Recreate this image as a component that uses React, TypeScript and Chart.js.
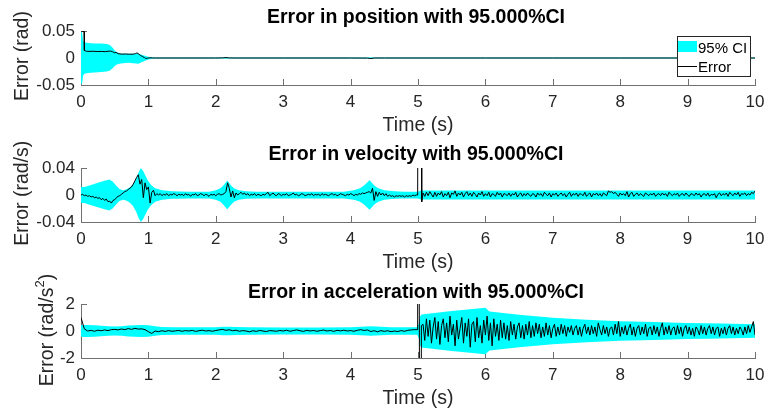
import React, { useEffect, useRef } from "react";
import { Chart, registerables } from "chart.js";

Chart.register(...registerables);

// ---------------- data ----------------
const xTickValues = [0, 1, 2, 3, 4, 5, 6, 7, 8, 9, 10];
const xTickLabels = ["0", "1", "2", "3", "4", "5", "6", "7", "8", "9", "10"];

const posYTicks = [-0.05, 0, 0.05];
const posYTickLabels = ["-0.05", "0", "0.05"];
const velYTicks = [-0.04, 0, 0.04];
const velYTickLabels = ["-0.04", "0", "0.04"];
const accYTicks = [-2, 0, 2];
const accYTickLabels = ["-2", "0", "2"];

// Position error (rad)
const posErrT = [0, 0.045, 0.05, 0.08, 0.12, 0.18, 0.24, 0.3, 0.36, 0.4, 0.44, 0.47, 0.5, 0.52, 0.55, 0.6, 0.66, 0.72, 0.78, 0.81, 0.83, 0.85, 0.88, 0.91, 0.94, 0.96, 0.99, 1.02, 1.06, 1.1, 1.5, 2.0, 2.1, 2.15, 2.2, 2.3, 3.0, 4.0, 4.25, 4.3, 4.35, 4.5, 5.0, 6.0, 7.0, 8.0, 9.0, 10.0];
const posErr = [0.05, 0.049, 0.014, 0.0125, 0.0122, 0.0125, 0.012, 0.0122, 0.0118, 0.0125, 0.0128, 0.0115, 0.0095, 0.0105, 0.008, 0.0072, 0.0074, 0.007, 0.0072, 0.0082, 0.0095, 0.008, 0.005, 0.0028, 0.0008, -0.0008, -0.0003, 0.0004, 0.0001, 0, 0, 0, 0.0002, 0.0008, 0.0001, 0, 0, 0, -0.0002, -0.001, 0, 0, 0, 0, 0, 0, 0, 0];
const posCiT = [0, 0.02, 0.03, 0.05, 0.1, 0.2, 0.3, 0.38, 0.43, 0.47, 0.5, 0.53, 0.57, 0.62, 0.7, 0.78, 0.85, 0.9, 0.95, 1.0, 1.05, 1.1, 2.1, 2.15, 2.2, 4.25, 4.3, 4.35, 10];
const posCiUpper = [0.05, 0.045, 0.032, 0.029, 0.028, 0.027, 0.027, 0.026, 0.024, 0.019, 0.014, 0.011, 0.009, 0.008, 0.0078, 0.008, 0.0085, 0.006, 0.004, 0.0022, 0.0012, 0.0008, 0.0008, 0.0016, 0.0008, 0.0008, 0.0016, 0.0008, 0.0008];
const posCiLower = [-0.05, -0.045, -0.033, -0.029, -0.028, -0.027, -0.026, -0.025, -0.023, -0.019, -0.015, -0.012, -0.0105, -0.0095, -0.009, -0.0095, -0.0105, -0.008, -0.005, -0.0028, -0.0012, -0.0008, -0.0008, -0.0016, -0.0008, -0.0008, -0.0016, -0.0008, -0.0008];

// Velocity error (rad/s)
const velCiT = [0, 0.05, 0.15, 0.25, 0.35, 0.42, 0.47, 0.52, 0.57, 0.62, 0.67, 0.72, 0.77, 0.82, 0.86, 0.89, 0.92, 0.95, 0.99, 1.04, 1.1, 1.2, 1.35, 1.6, 1.9, 2.0, 2.07, 2.12, 2.15, 2.17, 2.19, 2.22, 2.27, 2.34, 2.45, 2.6, 3.0, 3.5, 3.9, 4.05, 4.14, 4.2, 4.25, 4.28, 4.31, 4.35, 4.41, 4.5, 4.65, 4.8, 5.0, 5.04, 5.5, 6, 7, 8, 9, 10];
const velCiHalf = [0.012, 0.012, 0.015, 0.018, 0.021, 0.023, 0.02, 0.014, 0.009, 0.007, 0.008, 0.011, 0.016, 0.025, 0.035, 0.04, 0.036, 0.03, 0.022, 0.015, 0.01, 0.007, 0.0055, 0.005, 0.005, 0.007, 0.01, 0.015, 0.019, 0.021, 0.019, 0.015, 0.01, 0.007, 0.0055, 0.005, 0.005, 0.005, 0.005, 0.007, 0.01, 0.014, 0.019, 0.022, 0.019, 0.014, 0.01, 0.007, 0.0055, 0.005, 0.005, 0.0065, 0.0068, 0.0068, 0.0065, 0.0065, 0.0065, 0.0065];
const velPreStart = 0;
const velPreStep = 0.025;
const velPre = [
  0.000, 0.001, -0.001, 0.000, -0.002, -0.001, -0.003, -0.002, -0.004, -0.003,
  -0.005, -0.004, -0.007, -0.005, -0.008, -0.006, -0.010, -0.009, -0.012, -0.008,
  -0.007, -0.004, -0.002, -0.001, 0.001, 0.003, 0.005, 0.006, 0.008, 0.010,
  0.012, 0.016, 0.021, 0.026, 0.030, 0.016, 0.023, -0.004, 0.018, 0.008,
  0.012, -0.012, 0.004, 0.007, -0.001, 0.002, 0.000, 0.002, -0.001, 0.001,
  0.000, 0.002, -0.001, 0.001, 0.000, 0.002, 0.001, -0.001, 0.001, 0.000,
  0.001, -0.001, 0.002, 0.000, 0.001, -0.002, 0.001, 0.000, 0.002, -0.001,
  0.000, 0.002, 0.001, -0.001, 0.001, 0.000, -0.002, 0.001, 0.000, 0.001,
  -0.001, 0.001, 0.002, 0.000, 0.001, 0.002, 0.005, 0.018, 0.010, -0.003,
  0.006, -0.004, 0.003, 0.000, 0.002, 0.004, 0.001, 0.003, 0.000, 0.002,
  -0.001, 0.001, 0.000, 0.002, -0.001, 0.001, 0.000, -0.001, 0.001, 0.000,
  0.002, 0.004, -0.001, 0.001, 0.003, 0.000, -0.001, 0.002, 0.001, -0.001,
  0.001, 0.000, 0.002, -0.001, 0.000, 0.001, 0.003, 0.000, 0.001, -0.001,
  0.000, 0.002, 0.001, -0.001, 0.000, 0.001, 0.000, 0.002, -0.001, 0.001,
  0.000, 0.001, -0.001, 0.002, 0.000, 0.001, 0.000, -0.001, 0.001, 0.002,
  0.000, 0.001, -0.001, 0.000, 0.002, 0.001, 0.000, -0.001, 0.001, 0.000,
  0.002, 0.001, -0.001, 0.001, 0.000, 0.002, 0.001, 0.003, 0.002, 0.003,
  0.004, 0.005, 0.003, 0.010, -0.008, 0.005, -0.002, 0.004, 0.000, 0.003,
  -0.001, 0.002, -0.002, 0.000, -0.002, -0.001, -0.003, -0.001, -0.002, -0.001,
  -0.002, -0.001, -0.003, -0.001, -0.002, -0.001, -0.002, 0.000, -0.001, 0.000,
];
const velSpikeT = [4.995, 5.0, 5.05, 5.055];
const velSpike = [0.0, 0.3, 0.3, -0.01];
const velPostStart = 5.075;
const velPostStep = 0.025;
const velPost = [
  0.003, -0.002, 0.004, -0.001, 0.005, 0.001, -0.003, 0.004, -0.002, 0.003,
  0.000, 0.005, -0.003, 0.002, -0.001, 0.004, -0.004, 0.003, 0.001, 0.006,
  -0.002, 0.003, 0.000, 0.004, -0.003, 0.002, 0.005, -0.001, 0.003, -0.002,
  0.004, 0.001, -0.003, 0.003, 0.000, 0.005, -0.002, 0.002, -0.001, 0.004,
  -0.003, 0.002, 0.001, -0.002, 0.004, 0.000, 0.003, -0.003, 0.002, 0.001,
  -0.001, 0.003, -0.002, 0.002, 0.000, 0.004, -0.003, 0.001, 0.003, -0.002,
  0.002, -0.001, 0.003, 0.000, -0.002, 0.002, 0.001, -0.003, 0.003, 0.000,
  0.002, -0.002, 0.004, 0.001, -0.001, 0.003, -0.003, 0.002, 0.000, 0.003,
  -0.002, 0.001, 0.003, -0.001, 0.002, -0.003, 0.001, 0.004, -0.002, 0.002,
  0.000, 0.003, -0.002, 0.002, 0.001, -0.001, 0.004, -0.002, 0.001, 0.003,
  -0.003, 0.002, 0.000, 0.003, -0.001, 0.002, -0.002, 0.003, 0.001, -0.001,
  0.006, 0.004, 0.005, 0.002, 0.004, 0.001, -0.002, 0.003, 0.000, 0.002,
  -0.001, 0.005, -0.003, 0.002, 0.004, -0.002, 0.001, 0.003, -0.001, 0.002,
  0.000, -0.002, 0.003, 0.001, -0.001, 0.002, 0.000, 0.003, -0.002, 0.001,
  0.002, -0.001, 0.003, 0.000, 0.002, -0.002, 0.004, 0.001, -0.001, 0.002,
  0.000, 0.003, -0.002, 0.001, 0.002, -0.001, 0.003, 0.000, -0.002, 0.002,
  0.001, -0.001, 0.003, 0.000, 0.002, -0.003, 0.001, 0.002, -0.001, 0.003,
  -0.002, 0.001, 0.000, 0.002, -0.004, 0.001, 0.003, -0.001, 0.002, 0.000,
  0.003, -0.002, 0.004, 0.001, -0.001, 0.003, 0.000, 0.004, -0.002, 0.002,
  0.001, 0.003, -0.001, 0.002, 0.000, 0.004, 0.002, 0.006,
];

// Acceleration error (rad/s^2)
const accCiT = [0, 0.05, 0.1, 0.2, 0.3, 0.4, 0.5, 0.6, 0.7, 0.8, 0.9, 1.0, 1.1, 1.2, 1.4, 1.7, 2.0, 2.1, 2.2, 2.3, 2.5, 3.0, 3.5, 4.0, 4.15, 4.3, 4.45, 4.6, 4.99, 5.015, 5.03, 5.05, 5.5, 6.0, 6.06, 6.5, 7, 7.5, 8, 8.5, 9, 9.5, 10];
const accCiHalf = [0.42, 0.45, 0.45, 0.42, 0.38, 0.35, 0.33, 0.36, 0.4, 0.43, 0.45, 0.43, 0.36, 0.3, 0.27, 0.27, 0.28, 0.31, 0.32, 0.3, 0.27, 0.26, 0.26, 0.27, 0.32, 0.36, 0.32, 0.28, 0.27, 0.6, 1.05, 1.23, 1.48, 1.72, 1.45, 1.2, 0.98, 0.84, 0.73, 0.66, 0.6, 0.55, 0.5];
const accPreStart = 0;
const accPreStep = 0.05;
const accPre = [
  1.0, 0.15, 0.0, 0.05, -0.02, 0.06, 0.02, 0.08, 0.03, 0.1,
  0.12, 0.08, 0.15, 0.1, 0.18, 0.12, 0.2, 0.14, 0.16, 0.1,
  -0.05, -0.18, 0.0, -0.05, 0.02, -0.03, 0.03, -0.02, 0.01, 0.04,
  -0.02, 0.03, 0.0, 0.05, -0.03, 0.02, 0.06, 0.0, 0.03, -0.02,
  0.04, 0.08, 0.12, 0.05, 0.09, 0.02, 0.06, -0.02, 0.03, 0.0,
  -0.06, 0.02, -0.03, 0.04, 0.0, -0.04, 0.03, 0.01, -0.02, 0.04,
  0.0, 0.06, -0.02, 0.03, 0.08, 0.02, -0.03, 0.05, 0.0, 0.04,
  -0.02, 0.03, 0.07, 0.0, 0.04, -0.03, 0.05, 0.01, 0.06, 0.0,
  0.03, -0.02, 0.05, 0.1, 0.04, 0.08, -0.04, 0.02, -0.06, 0.03,
  -0.03, 0.02, -0.05, 0.0, -0.04, 0.03, -0.02, 0.05, 0.08, 0.1,
];
const accSpikeT = [4.995, 5.0, 5.04, 5.05];
const accSpike = [0.1, 40, -40, 0.4];
const accPostStart = 5.075;
const accPostStep = 0.025;
const accPost = [
  0.5, -0.7, 0.9, -0.4, 0.8, -0.9, 0.3, 1.0, -0.6, 0.7,
  -1.0, 0.4, 0.9, -0.5, 0.6, -0.8, 1.1, -0.3, 0.5, -1.1,
  0.8, -0.6, 0.2, 1.0, -0.9, 0.6, -0.4, 0.9, -1.2, 0.5,
  0.7, -0.8, 1.0, -0.5, 0.4, -0.9, 0.8, -0.3, 1.1, -0.7,
  0.6, -1.1, 0.9, -0.4, 0.5, -0.7, 0.8, -0.5, 0.6, -0.6,
  0.4, -0.7, 0.7, -0.3, 0.5, -0.6, 0.3, 0.6, -0.5, 0.4,
  -0.6, 0.5, -0.3, 0.7, -0.5, 0.4, -0.4, 0.6, -0.2, 0.5,
  -0.5, 0.3, -0.4, 0.6, -0.3, 0.4, -0.5, 0.2, 0.5, -0.4,
  0.3, -0.3, 0.5, -0.2, 0.4, -0.4, 0.3, -0.1, 0.4, -0.3,
  0.2, 0.4, -0.3, 0.3, -0.4, 0.2, 0.5, -0.2, 0.3, -0.3,
  0.4, -0.2, 0.3, -0.4, 0.6, 0.1, -0.3, 0.4, -0.2, 0.3,
  -0.4, 0.2, 0.3, -0.3, 0.5, -0.2, 0.7, -0.4, 0.3, -0.2,
  0.4, -0.3, 0.2, 0.5, -0.3, 0.3, -0.4, 0.2, 0.4, -0.3,
  0.3, -0.2, 0.5, -0.4, 0.2, 0.3, -0.3, 0.4, -0.2, 0.3,
  -0.4, 0.2, 0.6, -0.3, 0.3, -0.2, 0.4, -0.3, 0.2, 0.3,
  -0.3, 0.4, -0.2, 0.3, -0.4, 0.2, 0.4, -0.2, 0.3, -0.3,
  0.2, -0.4, 0.3, 0.1, -0.3, 0.4, -0.2, 0.3, -0.3, 0.2,
  0.4, -0.2, 0.3, -0.3, 0.2, 0.3, -0.4, 0.2, -0.2, 0.3,
  -0.3, 0.2, 0.4, -0.2, 0.3, -0.3, 0.2, -0.2, 0.3, 0.1,
  -0.3, 0.3, -0.2, 0.4, -0.1, 0.3, 0.7, -0.3,
];

// ---------------- helpers ----------------
type Pt = { x: number; y: number };
const zip = (t: number[], v: number[]): Pt[] =>
  t.slice(0, Math.min(t.length, v.length)).map((x, i) => ({ x, y: v[i] }));
const sampled = (start: number, step: number, v: number[]): Pt[] =>
  v.map((y, i) => ({ x: +(start + i * step).toFixed(4), y }));
const neg = (v: number[]) => v.map((y) => -y);

const FONT = '"Liberation Sans", Arial, Helvetica, sans-serif';
const CYAN = "#00ffff";
const AXIS = "#707070";
const TEXT = "#262626";
const TICK_LEN = 6;

type PanelCfg = {
  canvasTop: number;
  canvasH: number;
  chartTop: number;
  chartBottom: number;
  title: string;
  titleY: number;
  ylabel: string[]; // [main, superscript, tail]
  ylabelX: number;
  ylabelY: number;
  yMin: number;
  yMax: number;
  yTicks: number[];
  yTickLabels: string[];
  err: Pt[];
  ciUp: Pt[];
  ciLo: Pt[];
  legend: boolean;
};

const panels: PanelCfg[] = [
  {
    canvasTop: 0, canvasH: 137, chartTop: 31, chartBottom: 85,
    title: "Error in position with 95.000%CI", titleY: 16,
    ylabel: ["Error (rad)"], ylabelX: 27.5, ylabelY: 56,
    yMin: -0.05, yMax: 0.05, yTicks: posYTicks, yTickLabels: posYTickLabels,
    err: zip(posErrT, posErr),
    ciUp: zip(posCiT, posCiUpper),
    ciLo: zip(posCiT, posCiLower),
    legend: true,
  },
  {
    canvasTop: 137, canvasH: 137, chartTop: 31, chartBottom: 85,
    title: "Error in velocity with 95.000%CI", titleY: 16.3,
    ylabel: ["Error (rad/s)"], ylabelX: 27.5, ylabelY: 56.3,
    yMin: -0.04, yMax: 0.04, yTicks: velYTicks, yTickLabels: velYTickLabels,
    err: [
      ...sampled(velPreStart, velPreStep, velPre),
      ...zip(velSpikeT, velSpike),
      ...sampled(velPostStart, velPostStep, velPost),
    ],
    ciUp: zip(velCiT, velCiHalf),
    ciLo: zip(velCiT, neg(velCiHalf)),
    legend: false,
  },
  {
    canvasTop: 274, canvasH: 141, chartTop: 30, chartBottom: 84,
    title: "Error in acceleration with 95.000%CI", titleY: 17.3,
    ylabel: ["Error (rad/s", "2", ")"], ylabelX: 52.5, ylabelY: 56,
    yMin: -2, yMax: 2, yTicks: accYTicks, yTickLabels: accYTickLabels,
    err: [
      ...sampled(accPreStart, accPreStep, accPre),
      ...zip(accSpikeT, accSpike),
      ...sampled(accPostStart, accPostStep, accPost),
    ],
    ciUp: zip(accCiT, accCiHalf),
    ciLo: zip(accCiT, neg(accCiHalf)),
    legend: false,
  },
];

function decorPlugin(cfg: PanelCfg) {
  return {
    id: "matlabDecor",
    beforeDatasetsDraw(chart: any) {
      const { ctx, chartArea, scales } = chart;
      ctx.save();
      ctx.strokeStyle = AXIS;
      ctx.lineWidth = 1;
      ctx.beginPath();
      xTickValues.forEach((v) => {
        const px = Math.round(scales.x.getPixelForValue(v)) + 0.5;
        ctx.moveTo(px, chartArea.bottom);
        ctx.lineTo(px, chartArea.bottom - TICK_LEN);
      });
      cfg.yTicks.forEach((v) => {
        const py = Math.round(scales.y.getPixelForValue(v)) + 0.5;
        ctx.moveTo(chartArea.left, py);
        ctx.lineTo(chartArea.left + TICK_LEN, py);
      });
      ctx.stroke();
      ctx.restore();
    },
    afterDatasetsDraw(chart: any) {
      if (!cfg.legend) return;
      const { ctx, chartArea } = chart;
      const ds = chart.data.datasets;
      const w = 73, h = 40;
      const left = chartArea.right - 4.5 - w;
      const top = chartArea.top + 5.5;
      ctx.save();
      ctx.fillStyle = "#ffffff";
      ctx.fillRect(left, top, w, h);
      ctx.strokeStyle = TEXT;
      ctx.lineWidth = 1;
      ctx.strokeRect(left, top, w, h);
      ctx.fillStyle = ds[1].backgroundColor;
      ctx.fillRect(left + 0.5, top + 4.5, 19, 11);
      ctx.beginPath();
      ctx.strokeStyle = ds[0].borderColor;
      ctx.moveTo(left + 0.5, top + 30);
      ctx.lineTo(left + 19.5, top + 30);
      ctx.stroke();
      ctx.font = `15px ${FONT}`;
      ctx.fillStyle = "#000";
      ctx.textAlign = "left";
      ctx.textBaseline = "alphabetic";
      ctx.fillText(ds[1].label, left + 20.5, top + 16.5);
      ctx.fillText(ds[0].label, left + 20.5, top + 35.5);
      ctx.restore();
    },
    afterDraw(chart: any) {
      const { ctx, chartArea } = chart;
      const cx = (chartArea.left + chartArea.right) / 2;
      ctx.save();
      // title
      ctx.font = `bold 19.5px ${FONT}`;
      ctx.fillStyle = "#000";
      ctx.textAlign = "center";
      ctx.textBaseline = "alphabetic";
      ctx.fillText(cfg.title, cx - 2, cfg.titleY + 7);
      // x label
      ctx.font = `19.5px ${FONT}`;
      ctx.fillStyle = TEXT;
      ctx.fillText("Time (s)", cx, chartArea.bottom + 46);
      // y label (rotated)
      ctx.translate(cfg.ylabelX, cfg.ylabelY);
      ctx.rotate(-Math.PI / 2);
      const mainFont = `19.5px ${FONT}`;
      const supFont = `13px ${FONT}`;
      const parts = cfg.ylabel;
      ctx.font = mainFont;
      const w0 = ctx.measureText(parts[0]).width;
      let w1 = 0, w2 = 0;
      if (parts.length > 1) {
        ctx.font = supFont;
        w1 = ctx.measureText(parts[1]).width;
        ctx.font = mainFont;
        w2 = ctx.measureText(parts[2]).width;
      }
      let x = -(w0 + w1 + w2) / 2;
      ctx.textAlign = "left";
      ctx.font = mainFont;
      ctx.fillText(parts[0], x, 0);
      x += w0;
      if (parts.length > 1) {
        ctx.font = supFont;
        ctx.fillText(parts[1], x, -9);
        x += w1;
        ctx.font = mainFont;
        ctx.fillText(parts[2], x, 0);
      }
      ctx.restore();
    },
  };
}

function makeConfig(cfg: PanelCfg): any {
  return {
    type: "line",
    data: {
      datasets: [
        {
          label: "Error",
          data: cfg.err,
          borderColor: "#000000",
          borderWidth: 1,
          pointRadius: 0,
          fill: false,
          tension: 0,
        },
        {
          label: "95% CI",
          data: cfg.ciUp,
          borderColor: "rgba(0,0,0,0)",
          borderWidth: 0,
          backgroundColor: CYAN,
          pointRadius: 0,
          fill: "+1",
          tension: 0,
        },
        {
          label: "CI lower",
          data: cfg.ciLo,
          borderColor: "rgba(0,0,0,0)",
          borderWidth: 0,
          pointRadius: 0,
          fill: false,
          tension: 0,
        },
      ],
    },
    options: {
      responsive: false,
      animation: false,
      events: [],
      layout: { padding: { top: cfg.chartTop, right: 20, left: 0, bottom: 0 } },
      plugins: {
        legend: { display: false },
        tooltip: { enabled: false },
        title: { display: false },
      },
      scales: {
        x: {
          type: "linear",
          min: 0,
          max: 10,
          afterBuildTicks: (s: any) => {
            s.ticks = xTickValues.map((v) => ({ value: v }));
          },
          afterFit: (s: any) => {
            s.height = cfg.canvasH - cfg.chartBottom;
          },
          grid: { display: false, drawTicks: false },
          border: { display: true, color: AXIS, width: 1 },
          ticks: {
            autoSkip: false,
            maxRotation: 0,
            padding: 7,
            color: TEXT,
            font: { family: FONT, size: 17 },
            callback: (_v: any, i: number) => xTickLabels[i],
          },
        },
        y: {
          type: "linear",
          min: cfg.yMin,
          max: cfg.yMax,
          afterBuildTicks: (s: any) => {
            s.ticks = cfg.yTicks.map((v) => ({ value: v }));
          },
          afterFit: (s: any) => {
            s.width = 81;
          },
          grid: { display: false, drawTicks: false },
          border: { display: true, color: AXIS, width: 1 },
          ticks: {
            autoSkip: false,
            padding: 6,
            color: TEXT,
            font: { family: FONT, size: 17 },
            callback: (_v: any, i: number) => cfg.yTickLabels[i],
          },
        },
      },
    },
    plugins: [decorPlugin(cfg)],
  };
}

function Panel({ cfg }: { cfg: PanelCfg }) {
  const ref = useRef<HTMLCanvasElement | null>(null);
  useEffect(() => {
    if (!ref.current) return;
    const chart = new Chart(ref.current, makeConfig(cfg));
    return () => chart.destroy();
  }, [cfg]);
  return (
    <canvas
      ref={ref}
      width={775}
      height={cfg.canvasH}
      style={{ position: "absolute", left: 0, top: cfg.canvasTop, width: 775, height: cfg.canvasH, display: "block" }}
    />
  );
}

export default function App() {
  return (
    <div style={{ position: "fixed", left: 0, top: 0, width: 775, height: 415, background: "#ffffff", overflow: "hidden" }}>
      {panels.map((p, i) => (
        <Panel key={i} cfg={p} />
      ))}
    </div>
  );
}
